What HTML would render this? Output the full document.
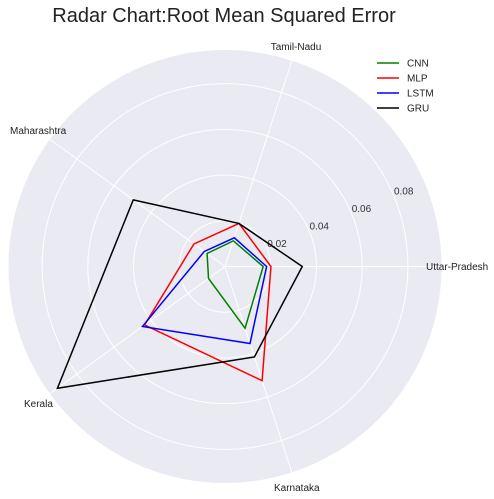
<!DOCTYPE html>
<html><head><meta charset="utf-8"><style>
body{margin:0;background:#fff;}
svg{display:block;font-family:"Liberation Sans",sans-serif;}
</style></head><body>
<svg id="chart" width="494" height="499">
<text x="224" y="22" text-anchor="middle" font-size="20" fill="#222">Radar Chart:Root Mean Squared Error</text>
<g id="plot"></g>
<g id="legend"></g>
</svg>
<script>
const categories = ["Uttar-Pradesh","Tamil-Nadu","Maharashtra","Kerala","Karnataka"];
const seriesNames = ["CNN","MLP","LSTM","GRU"];
const cnnValues = [0.0167,0.0118,0.0097,0.0089,0.0284];
const mlpValues = [0.0201,0.0198,0.0168,0.0435,0.0525];
const lstmValues = [0.0182,0.0132,0.0112,0.0446,0.0354];
const gruValues = [0.0338,0.0198,0.0496,0.0906,0.0416];
const tickValues = [0.02,0.04,0.06,0.08];
const tickLabels = ["0.02","0.04","0.06","0.08"];
const rMax = 0.0947;

const NS="http://www.w3.org/2000/svg";
const cx=225, cy=266.5, R=216.5;
const plot=document.getElementById('plot');
function rScale(v){return v/rMax*R;}
function ang(i){return i*2*Math.PI/categories.length;}
function pt(i,v){const r=rScale(v),a=ang(i);return [cx+r*Math.cos(a),cy-r*Math.sin(a)];}
function mk(tag,attrs,parent){const e=document.createElementNS(NS,tag);for(const k in attrs)e.setAttribute(k,attrs[k]);parent.appendChild(e);return e;}

const bg=mk('circle',{cx:cx,cy:cy,r:R,fill:'#EAEAF2'},plot);


tickValues.forEach((t,k)=>{
  const c=mk('circle',{cx:cx,cy:cy,r:rScale(t),fill:'none',stroke:'#fff','stroke-width':1},plot);
  
  
});
categories.forEach((c,i)=>{
  const [x,y]=pt(i,rMax);
  const l=mk('line',{x1:cx,y1:cy,x2:x,y2:y,stroke:'#fff','stroke-width':1},plot);
  
  
});
tickValues.forEach((t,k)=>{
  const r=rScale(t),a=22.5*Math.PI/180;
  const tx=mk('text',{x:cx+r*Math.cos(a),y:cy-r*Math.sin(a)-2,'font-size':10,fill:'#333'},plot);
  tx.textContent=tickLabels[k];
  
  
});
const labelPos=[[426,270,'start'],[296,50,'middle'],[10,134,'start'],[24,407,'start'],[274,491,'start']];
categories.forEach((c,i)=>{
  const p=labelPos[i];
  const tx=mk('text',{x:p[0],y:p[1],'font-size':10,fill:'#222','text-anchor':p[2]},plot);
  tx.textContent=c;
  
  
});
const colors=['#008000','#ff0000','#0000ff','#000000'];
const data=[cnnValues,mlpValues,lstmValues,gruValues];
data.forEach((vals,s)=>{
  const pts=vals.map((v,i)=>pt(i,v).join(',')).join(' ');
  const p=mk('polygon',{points:pts,fill:'none',stroke:colors[s],'stroke-width':1.5},plot);
  
  
});
const lg=document.getElementById('legend');
seriesNames.forEach((n,s)=>{
  const y=63+s*15;
  const l=mk('line',{x1:377,y1:y,x2:399,y2:y,stroke:colors[s],'stroke-width':1.5},lg);
  
  
  const t=mk('text',{x:407,y:y+3.5,'font-size':10,fill:'#222'},lg);
  t.textContent=n;
  
  
});
</script>
</body></html>
